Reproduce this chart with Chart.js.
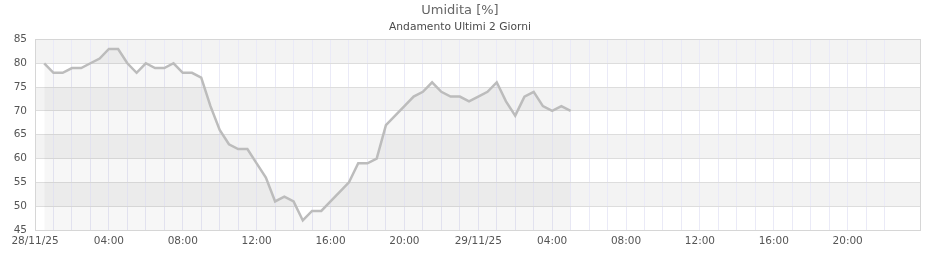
<!DOCTYPE html>
<html>
<head>
<meta charset="utf-8">
<script src="https://cdn.jsdelivr.net/npm/chart.js@4.4.1/dist/chart.umd.min.js"></script>
<style>
    html, body { margin: 0; padding: 0; background: #fff; }
    #wrap { width: 940px; height: 260px; }
</style>
</head>
<body>
<div id="wrap"><canvas id="humChart" width="940" height="260"></canvas></div>
<script>
// hours since 28/11/25 00:00
const hours = [
    0.5, 1, 1.5, 2, 2.5, 3, 3.5, 4, 4.5, 5, 5.5, 6, 6.5, 7, 7.5, 8,
    8.5, 9, 9.5, 10, 10.5, 11, 11.5, 12, 12.5, 13, 13.5, 14, 14.5, 15,
    15.5, 16, 16.5, 17, 17.5, 18, 18.5, 19, 19.5, 20, 20.5, 21, 21.5, 22,
    22.5, 23, 23.5, 24, 24.5, 25, 25.5, 26, 26.5, 27, 27.5, 28, 28.5, 29
];
const humidity = [
    80, 78, 78, 79, 79, 80, 81, 83, 83, 80, 78, 80, 79, 79, 80, 78,
    78, 77, 71, 66, 63, 62, 62, 59, 56, 51, 52, 51, 47, 49,
    49, 51, 53, 55, 59, 59, 60, 67, 69, 71, 73, 74, 76, 74,
    73, 73, 72, 73, 74, 76, 72, 69, 73, 74, 71, 70, 71, 70
];
const tickLabels = [
    '28/11/25', '04:00', '08:00', '12:00', '16:00', '20:00',
    '29/11/25', '04:00', '08:00', '12:00', '16:00', '20:00'
];
const xMax = 47 + 55 / 60;

const bandsPlugin = {
    id: 'bands',
    beforeDraw(chart) {
        const { ctx, chartArea, scales } = chart;
        const y = scales.y;
        ctx.save();
        ctx.fillStyle = '#ffffff';
        ctx.fillRect(chartArea.left, chartArea.top, chartArea.width, chartArea.height);
        // alternate grey bands every 5 %
        ctx.fillStyle = '#f3f3f3';
        for (let v = 50; v < 85; v += 10) {
            const top = y.getPixelForValue(v + 5);
            const bottom = y.getPixelForValue(v);
            ctx.fillRect(chartArea.left, top, chartArea.width, bottom - top);
        }
        ctx.restore();
    },
    afterDraw(chart) {
        const { ctx, chartArea } = chart;
        ctx.save();
        ctx.strokeStyle = '#d6d6d6';
        ctx.lineWidth = 1;
        ctx.strokeRect(Math.round(chartArea.left) + 0.5, Math.round(chartArea.top) + 0.5,
            Math.round(chartArea.width), Math.round(chartArea.height));
        ctx.restore();
    }
};

const ctx = document.getElementById('humChart').getContext('2d');
new Chart(ctx, {
    type: 'line',
    data: {
        datasets: [{
            data: hours.map((h, i) => ({ x: h, y: humidity[i] })),
            borderColor: '#bcbcbc',
            borderWidth: 2.5,
            backgroundColor: 'rgba(0,0,0,0.03)',
            fill: 'start',
            pointRadius: 0,
            tension: 0
        }]
    },
    options: {
        responsive: false,
        animation: false,
        layout: { padding: { left: 0, right: 20, top: 0, bottom: 0 } },
        plugins: {
            legend: { display: false },
            tooltip: { enabled: false },
            title: {
                display: true,
                text: 'Umidita [%]',
                color: '#666',
                font: { family: 'DejaVu Sans', size: 13, weight: 'normal' },
                padding: { top: 3, bottom: 0 }
            },
            subtitle: {
                display: true,
                text: 'Andamento Ultimi 2 Giorni',
                color: '#4a4a4a',
                font: { family: 'DejaVu Sans', size: 10.7 },
                padding: { top: 2, bottom: 6 }
            }
        },
        scales: {
            x: {
                type: 'linear',
                min: 0,
                max: xMax,
                afterFit: (s) => { s.height = 30; },
                grid: { color: '#eaeaf7', drawTicks: false },
                border: { color: '#cccccc' },
                ticks: {
                    stepSize: 1,
                    autoSkip: false,
                    maxRotation: 0,
                    padding: 5,
                    color: '#555',
                    font: { family: 'DejaVu Sans', size: 10.5 },
                    callback: (v) => (Number.isInteger(v) && v % 4 === 0) ? tickLabels[v / 4] : ''
                }
            },
            y: {
                min: 45,
                max: 85,
                afterFit: (s) => { s.width = 35; },
                grid: { color: '#dddddd', drawTicks: false },
                border: { color: '#cccccc' },
                ticks: {
                    stepSize: 5,
                    padding: 8,
                    color: '#555',
                    font: { family: 'DejaVu Sans', size: 10.5 }
                }
            }
        }
    },
    plugins: [bandsPlugin]
});
</script>
</body>
</html>
